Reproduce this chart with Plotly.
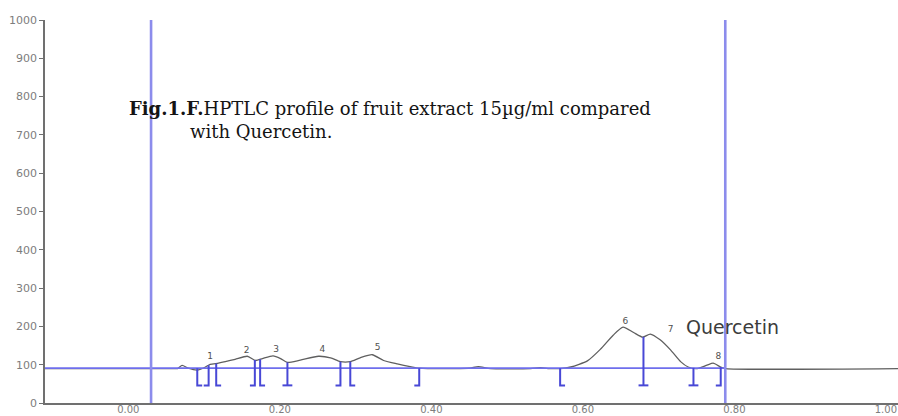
import numpy as np
import plotly.graph_objects as go

# Densitogram of the fruit extract track (Rf vs. absorbance units)
curve_rf = [-0.110, 0.016, 0.029, 0.055, 0.065, 0.071, 0.079, 0.091, 0.100, 0.108,
            0.119, 0.128, 0.141, 0.157, 0.168, 0.177, 0.191, 0.201, 0.210, 0.227,
            0.251, 0.267, 0.280, 0.293, 0.306, 0.322, 0.337, 0.355, 0.372, 0.384,
            0.438, 0.451, 0.462, 0.478, 0.531, 0.544, 0.554, 0.570, 0.584, 0.606,
            0.623, 0.640, 0.653, 0.667, 0.679, 0.689, 0.702, 0.716, 0.729, 0.739,
            0.751, 0.764, 0.772, 0.782, 0.789, 1.016]
curve_au = [90, 90, 90, 90, 90, 98, 91, 86, 92, 101,
            104, 108, 114, 122, 111, 116, 123, 116, 106, 112,
            122, 118, 108, 108, 118, 126, 111, 102, 95, 91,
            90, 91, 95, 90, 90, 92, 90, 90, 94, 110,
            140, 177, 198, 184, 172, 180, 165, 138, 108, 94,
            90, 99, 104, 94, 90, 90]

# Integration baseline and track limits
baseline_au = 91
baseline_rf = [-0.110, 0.788]
track_limits = [0.030, 0.788]

# Peak boundaries: "[" start, "]" end, "I" shared boundary
bound_rf = [0.091, 0.106, 0.116, 0.167, 0.174, 0.210, 0.280, 0.293, 0.384,
            0.570, 0.680, 0.746, 0.782]
bound_kind = ["[", "]", "[", "]", "[", "I", "]", "[", "]", "[", "I", "I", "]"]
bound_bottom = 46
foot = 0.0065

# Peak numbers and their label positions
peak_ids = ["1", "2", "3", "4", "5", "6", "7", "8"]
peak_label_rf = [0.108, 0.156, 0.195, 0.256, 0.329, 0.656, 0.716, 0.779]
peak_label_au = [120, 136, 138, 138, 144, 211, 191, 120]

x_ticks = [0.0, 0.2, 0.4, 0.6, 0.8, 1.0]
x_tick_text = ["0.00", "0.20", "0.40", "0.60", "0.80", "1.00"]
y_ticks = list(range(0, 1001, 100))

AXIS_GREY = "rgb(112,112,112)"
TRACK_BLUE = "rgb(140,140,236)"
MARK_BLUE = "rgb(72,72,214)"

fig = go.Figure()

# signal
fig.add_trace(go.Scatter(
    x=curve_rf, y=curve_au, mode="lines",
    line=dict(color="rgb(95,95,95)", width=1.3, shape="spline", smoothing=0.6),
    hoverinfo="skip"))

# baseline
fig.add_trace(go.Scatter(
    x=baseline_rf, y=[baseline_au] * len(baseline_rf), mode="lines",
    line=dict(color="rgb(110,110,236)", width=1.6), hoverinfo="skip"))

# track limits
for lim in track_limits:
    fig.add_trace(go.Scatter(
        x=[lim, lim], y=[0, 1000], mode="lines",
        line=dict(color=TRACK_BLUE, width=2.6), hoverinfo="skip"))

# peak boundary markers
mx, my = [], []
for rf, kind in zip(bound_rf, bound_kind):
    top = max(float(np.interp(rf, curve_rf, curve_au)), baseline_au)
    if kind == "[":
        mx += [rf, rf, rf + foot, None]
        my += [top, bound_bottom, bound_bottom, None]
    elif kind == "]":
        mx += [rf, rf, rf - foot, None]
        my += [top, bound_bottom, bound_bottom, None]
    else:
        mx += [rf, rf, None, rf - foot, rf + foot, None]
        my += [top, bound_bottom, None, bound_bottom, bound_bottom, None]
fig.add_trace(go.Scatter(
    x=mx, y=my, mode="lines", line=dict(color=MARK_BLUE, width=2),
    hoverinfo="skip"))

# peak numbers
fig.add_trace(go.Scatter(
    x=peak_label_rf, y=peak_label_au, mode="text", text=peak_ids,
    textfont=dict(family="DejaVu Sans", size=9, color="rgb(80,80,80)"),
    hoverinfo="skip"))

# reference compound label
fig.add_annotation(
    x=0.733, y=198, xref="x", yref="y", text="Quercetin", showarrow=False,
    xanchor="left", yanchor="middle",
    font=dict(family="DejaVu Sans", size=19, color="rgb(60,60,60)"))

# caption
fig.add_annotation(
    x=0.0961, y=0.768, xref="paper", yref="paper",
    text="<b>Fig.1.F.</b>HPTLC profile of fruit extract 15µg/ml compared",
    showarrow=False, xanchor="left", yanchor="middle",
    font=dict(family="DejaVu Serif", size=18, color="rgb(20,20,20)"))
fig.add_annotation(
    x=0.1676, y=0.708, xref="paper", yref="paper",
    text="with Quercetin.", showarrow=False, xanchor="left", yanchor="middle",
    font=dict(family="DejaVu Serif", size=18, color="rgb(20,20,20)"))

fig.update_layout(
    width=898, height=416,
    margin=dict(l=45, r=0, t=20, b=13),
    paper_bgcolor="white", plot_bgcolor="white",
    showlegend=False,
    font=dict(family="DejaVu Sans", size=10, color="rgb(120,120,120)"),
)
fig.update_xaxes(
    range=[-0.110, 1.016], tickmode="array", tickvals=x_ticks, ticktext=x_tick_text,
    showgrid=False, zeroline=False, showline=True, linecolor=AXIS_GREY, linewidth=1.6,
    ticks="", ticklabelstandoff=-4,
    tickfont=dict(size=10, color="rgb(125,125,125)"), automargin=False)
fig.update_yaxes(
    range=[0, 1000], tickmode="array", tickvals=y_ticks,
    showgrid=False, zeroline=False, showline=True, linecolor=AXIS_GREY, linewidth=1.6,
    ticks="outside", ticklen=4, tickcolor=AXIS_GREY,
    tickfont=dict(size=11, color="rgb(125,125,125)"), automargin=False)

fig.write_html("out.html")
